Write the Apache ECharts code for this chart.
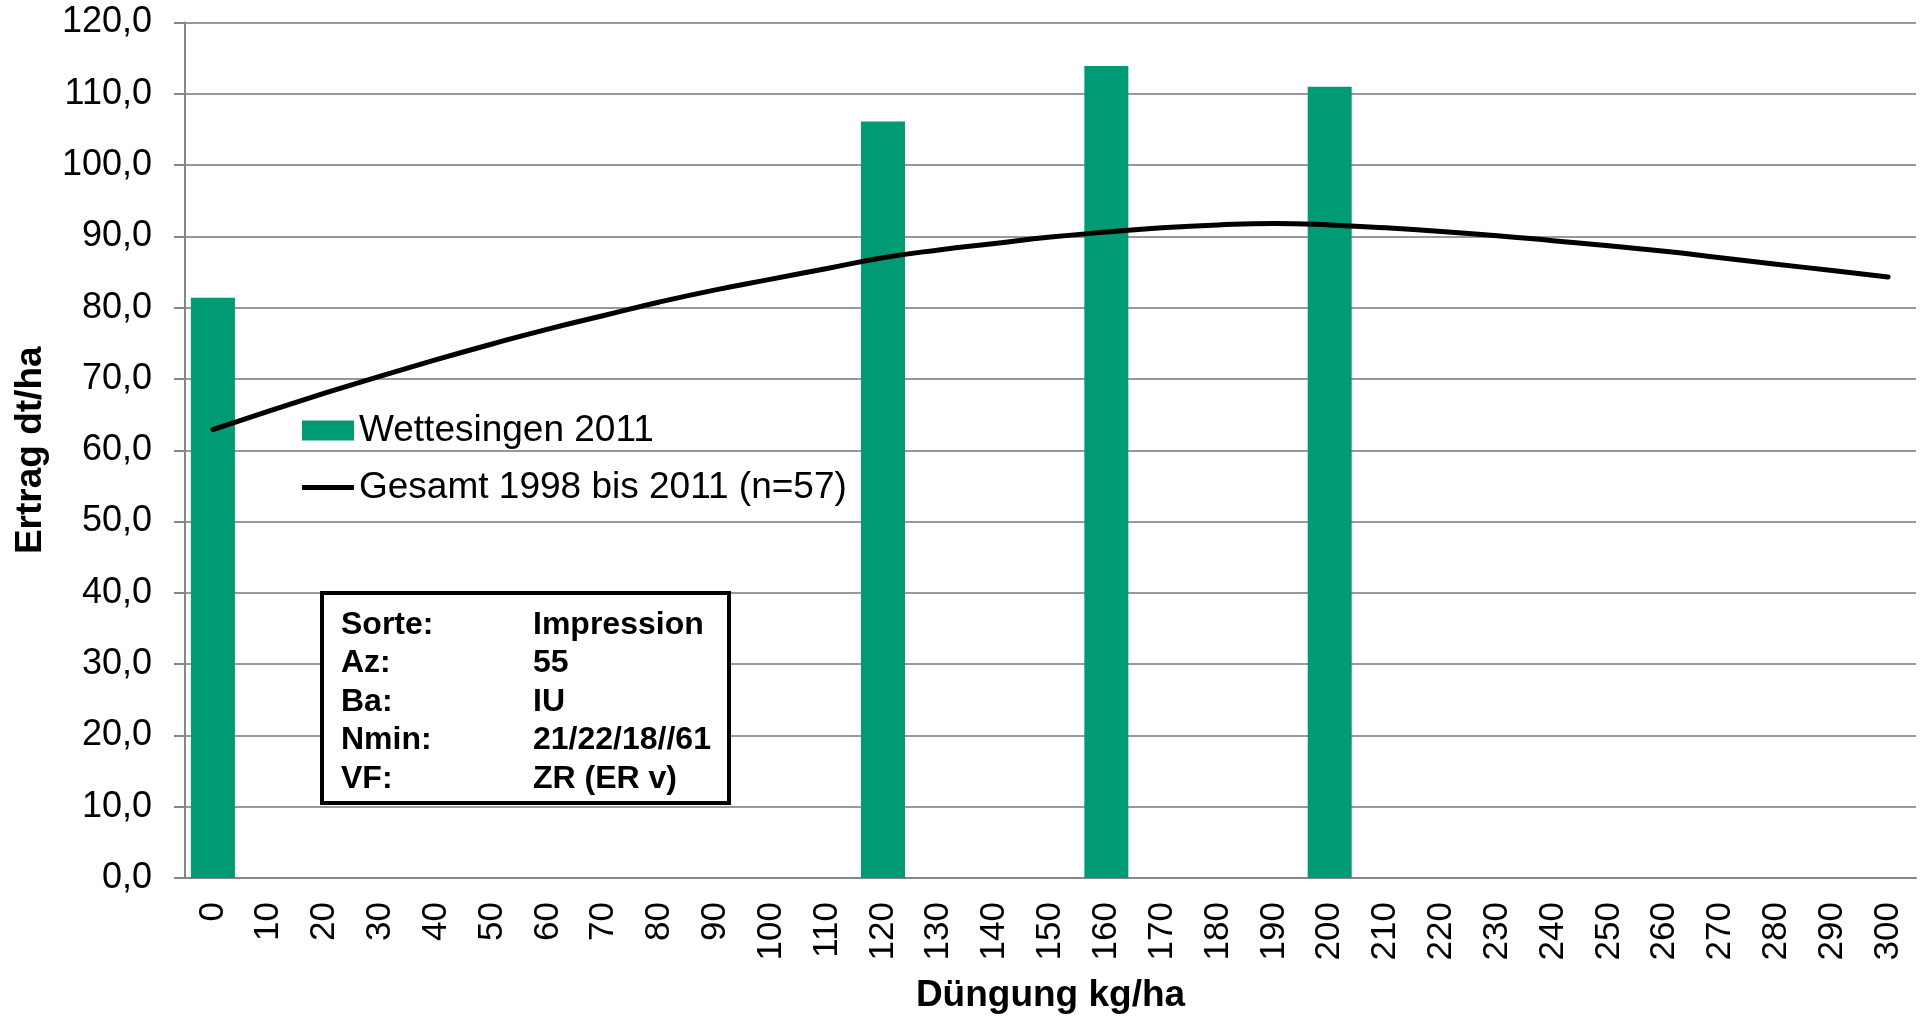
<!DOCTYPE html>
<html>
<head>
<meta charset="utf-8">
<script src="https://cdn.jsdelivr.net/npm/echarts@6/dist/echarts.min.js"></script>
<style>
  html, body { margin: 0; padding: 0; background: #fff; }
  #chart { width: 1926px; height: 1019px; }
</style>
</head>
<body>
<div id="chart"></div>
<script>
// x-Achse: Düngung in kg/ha
var categories = ['0','10','20','30','40','50','60','70','80','90','100','110','120','130','140','150',
  '160','170','180','190','200','210','220','230','240','250','260','270','280','290','300'];

// Wettesingen 2011 (Säulen)
var barCategories = ['0', '120', '160', '200'];
var barValues = [81.4, 106.1, 113.9, 111.0];

// Gesamt 1998 bis 2011 (n=57), Kurve
var lineValues = [62.9, 65.5, 68.0, 70.4, 72.7, 74.9, 77.0, 78.9, 80.8, 82.5, 84.0, 85.5, 87.0, 88.1,
  89.0, 89.9, 90.6, 91.2, 91.6, 91.8, 91.6, 91.2, 90.7, 90.1, 89.4, 88.7, 87.9, 87.0, 86.1, 85.2, 84.3];

// Infobox
var infoRows = [
  ['Sorte:', 'Impression'],
  ['Az:', '55'],
  ['Ba:', 'IU'],
  ['Nmin:', '21/22/18//61'],
  ['VF:', 'ZR (ER v)']
];

var font = '"Liberation Sans", Arial, sans-serif';
var green = '#009a74';
var barName = 'Wettesingen 2011';
var lineName = 'Gesamt 1998 bis 2011 (n=57)';

var barData = categories.map(function (c) {
  var i = barCategories.indexOf(c);
  return i >= 0 ? barValues[i] : null;
});

var boxElems = [{
  type: 'rect',
  z: 100,
  shape: { x: 322, y: 593, width: 407, height: 210 },
  style: { fill: '#fff', stroke: '#000', lineWidth: 4 }
}];
infoRows.forEach(function (r, i) {
  var y = 625 + i * 38.5;
  boxElems.push({
    type: 'text', x: 341, y: y, z: 101,
    style: { text: r[0], font: 'bold 32px ' + font, fill: '#000', verticalAlign: 'middle' }
  });
  boxElems.push({
    type: 'text', x: 533, y: y, z: 101,
    style: { text: r[1], font: 'bold 32px ' + font, fill: '#000', verticalAlign: 'middle' }
  });
});

var legendText = { fontSize: 37, color: '#000', fontFamily: font, lineHeight: 36 };

var myChart = echarts.init(document.getElementById('chart'));
var option = {
  animation: false,
  backgroundColor: '#fff',
  textStyle: { fontFamily: font },
  grid: { left: 185, right: 10, top: 22.5, bottom: 138 },
  legend: [
    {
      orient: 'vertical',
      left: 297,
      top: 407,
      itemWidth: 52,
      itemHeight: 20,
      icon: 'rect',
      textStyle: legendText,
      data: [barName]
    },
    {
      orient: 'vertical',
      left: 297,
      top: 464,
      itemWidth: 52,
      itemHeight: 5,
      icon: 'rect',
      itemStyle: { color: '#000' },
      lineStyle: { color: '#000', width: 5 },
      textStyle: legendText,
      data: [lineName]
    }
  ],
  xAxis: {
    type: 'category',
    data: categories,
    name: 'Düngung kg/ha',
    nameLocation: 'middle',
    nameGap: 99,
    nameTextStyle: { fontSize: 37, fontWeight: 'bold', color: '#000', fontFamily: font },
    axisLine: { lineStyle: { color: '#868686', width: 2 } },
    axisTick: { length: 11, lineStyle: { color: '#868686', width: 2 } },
    axisLabel: { rotate: 90, fontSize: 35, color: '#000', margin: 24, interval: 0, fontFamily: font }
  },
  yAxis: {
    type: 'value',
    min: 0,
    max: 120,
    interval: 10,
    name: 'Ertrag dt/ha',
    nameLocation: 'middle',
    nameGap: 136,
    nameTextStyle: { fontSize: 37, fontWeight: 'bold', color: '#000', fontFamily: font },
    axisLine: { show: true, lineStyle: { color: '#868686', width: 2 } },
    axisTick: { show: true, length: 11, lineStyle: { color: '#868686', width: 2 } },
    axisLabel: {
      fontSize: 36, color: '#000', margin: 33, fontFamily: font,
      formatter: function (v) { return v.toFixed(1).replace('.', ','); }
    },
    splitLine: { lineStyle: { color: '#999999', width: 2 } }
  },
  series: [
    {
      name: barName,
      type: 'bar',
      data: barData,
      barWidth: 44,
      itemStyle: { color: green }
    },
    {
      name: lineName,
      type: 'line',
      data: lineValues,
      smooth: true,
      symbol: 'none',
      lineStyle: { color: '#000', width: 5, cap: 'round' },
      itemStyle: { color: '#000' },
      z: 3
    }
  ],
  graphic: boxElems
};
myChart.setOption(option);
window.addEventListener('resize', function () { myChart.resize(); });
</script>
</body>
</html>
